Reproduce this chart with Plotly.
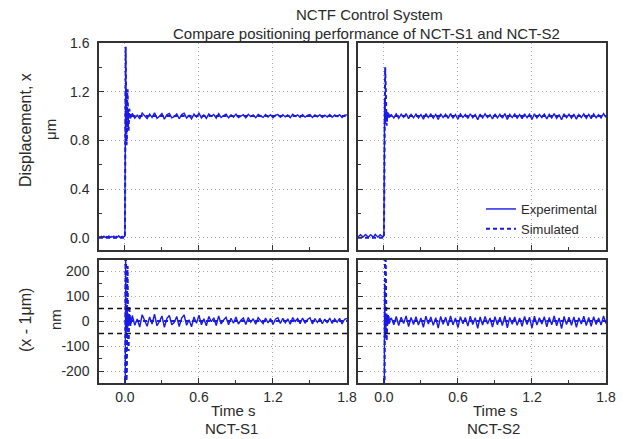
import plotly.graph_objects as go

# ---------------- data ----------------
# sampling of the pre-step part and of the steady part (seconds)
pre_start, pre_dt, pre_n = -0.21, 0.01, 21
ss_start, ss_dt, ss_n = 0.06, 0.02, 88

t_transient = [-0.004, 0.0, 0.002, 0.004, 0.006, 0.008, 0.010, 0.013, 0.016,
               0.019, 0.022, 0.026, 0.030, 0.035, 0.040, 0.045, 0.050]

# NCT-S1 experimental displacement (um)
s1_exp_pre = [0.010, 0.004, 0.012, 0.006, 0.014, 0.002, 0.011, 0.007, 0.015, 0.003,
              0.010, 0.008, 0.013, 0.001, 0.012, 0.006, 0.016, 0.004, 0.009, 0.011, 0.005]
s1_exp_tr = [0.008, 0.015, 0.55, 1.05, 1.25, 1.12, 0.95, 1.06, 0.96, 1.04,
             0.97, 1.03, 0.98, 1.02, 0.99, 1.015, 0.99]
s1_exp_ss = [1.022, 0.983, 1.008, 0.976, 1.025, 1.002, 0.979, 1.016, 0.988, 1.027,
             0.981, 0.998, 1.020, 0.975, 1.010, 1.022, 0.985, 0.995, 1.018, 0.978,
             1.012, 1.024, 0.983, 1.005, 0.977, 1.016, 0.991, 1.023, 0.985, 1.009,
             0.981, 1.018, 0.997, 1.013, 0.982, 1.020, 0.988, 1.004, 1.015, 0.985,
             1.011, 0.991, 1.016, 0.988, 1.003, 1.012, 0.986, 1.014, 0.995, 1.009,
             0.987, 1.013, 1.001, 0.989, 1.012, 0.992, 1.010, 0.986, 1.007, 1.013,
             0.990, 1.011, 0.993, 1.009, 0.987, 1.014, 0.998, 1.010, 0.989, 1.012,
             0.991, 1.006, 1.013, 0.988, 1.010, 0.994, 1.011, 0.989, 1.008, 0.992,
             1.012, 0.990, 1.009, 0.995, 1.011, 0.988, 1.007, 1.010]

# NCT-S1 simulated displacement (um)
s1_sim_t = [-0.21] + t_transient + [1.80]
s1_sim_v = [0.0, 0.0, 0.0, 0.45, 1.20, 1.57, 1.42, 1.05, 0.76, 0.80, 1.18, 1.22,
            0.92, 0.88, 1.06, 1.03, 0.98, 1.0, 1.0]

# NCT-S2 experimental displacement (um)
s2_exp_pre = [0.008, 0.018, 0.026, 0.017, 0.006, 0.014, 0.027, 0.019, 0.007, 0.012,
              0.025, 0.020, 0.005, 0.013, 0.028, 0.018, 0.006, 0.015, 0.026, 0.016, 0.008]
s2_exp_tr = [0.010, 0.020, 0.50, 0.98, 1.15, 1.10, 0.98, 0.94, 0.97, 1.01,
             1.03, 1.00, 0.985, 1.01, 1.02, 0.99, 1.005]
s2_exp_ss = [1.012, 0.985, 1.018, 0.982, 1.015, 0.990, 1.020, 0.978, 1.014, 0.986,
             1.017, 0.984, 1.012, 0.975, 1.019, 0.988, 1.016, 0.983, 1.013, 0.972,
             1.018, 0.987, 1.015, 0.981, 1.020, 0.985, 1.012, 0.974, 1.017, 0.989,
             1.014, 0.980, 1.019, 0.986, 1.013, 0.971, 1.016, 0.984, 1.018, 0.988,
             1.012, 0.976, 1.017, 0.985, 1.015, 0.982, 1.020, 0.973, 1.014, 0.987,
             1.016, 0.983, 1.012, 0.979, 1.018, 0.986, 1.015, 0.972, 1.019, 0.984,
             1.013, 0.988, 1.017, 0.977, 1.014, 0.985, 1.020, 0.981, 1.012, 0.970,
             1.018, 0.986, 1.015, 0.983, 1.016, 0.975, 1.013, 0.988, 1.019, 0.982,
             1.014, 0.979, 1.017, 0.986, 1.012, 0.984, 1.020, 0.990]

# NCT-S2 simulated displacement (um)
s2_sim_t = [-0.21] + t_transient + [1.80]
s2_sim_v = [0.0, 0.0, 0.0, 0.25, 0.75, 1.10, 1.32, 1.40, 1.30, 1.12, 0.97, 0.92,
            0.98, 1.03, 1.01, 0.99, 1.0, 1.0, 1.0]

target_um = 1.0
band_nm = [50, -50]

x_ticks = [0.0, 0.6, 1.2, 1.8]
x_tick_text = ["0.0", "0.6", "1.2", "1.8"]
disp_ticks = [0.0, 0.4, 0.8, 1.2, 1.6]
disp_tick_text = ["0.0", "0.4", "0.8", "1.2", "1.6"]
err_ticks = [-200, -100, 0, 100, 200]
err_tick_text = ["-200", "-100", "0", "100", "200"]

# ---------------- assemble series ----------------
t_pre = [round(pre_start + pre_dt * i, 4) for i in range(pre_n)]
t_ss = [round(ss_start + ss_dt * i, 4) for i in range(ss_n)]
t_exp = t_pre + t_transient + t_ss
s1_exp = s1_exp_pre + s1_exp_tr + s1_exp_ss
s2_exp = s2_exp_pre + s2_exp_tr + s2_exp_ss


def to_nm(vals):
    return [(v - target_um) * 1000.0 for v in vals]


# ---------------- layout geometry ----------------
W, H = 633, 439
ML, MR, MT, MB = 99, 27, 43, 56
PW, PH = W - ML - MR, H - MT - MB


def px_x(x):
    return (x - ML) / PW


def px_y(y):
    return (H - MB - y) / PH


BLUE = "#1a1ae6"
FONT = "Liberation Sans, Arial, sans-serif"
TXT = "#2a2a2a"

fig = go.Figure()

panels = [
    ("x", "y", "x3", "y3", t_exp, s1_exp, s1_sim_t, s1_sim_v, False),
    ("x2", "y2", "x4", "y4", t_exp, s2_exp, s2_sim_t, s2_sim_v, True),
]
# simulated first (drawn underneath), experimental second
for xa, ya, xb, yb, te, ve, ts, vs, leg in panels:
    fig.add_trace(go.Scatter(x=ts, y=vs, xaxis=xa, yaxis=ya, mode="lines",
                             line=dict(color=BLUE, width=2, dash="4px,3px"),
                             name="Simulated", showlegend=leg))
    fig.add_trace(go.Scatter(x=ts, y=to_nm(vs), xaxis=xb, yaxis=yb, mode="lines",
                             line=dict(color=BLUE, width=2, dash="4px,3px"),
                             showlegend=False))
for xa, ya, xb, yb, te, ve, ts, vs, leg in panels:
    fig.add_trace(go.Scatter(x=te, y=ve, xaxis=xa, yaxis=ya, mode="lines",
                             line=dict(color=BLUE, width=1.4),
                             name="Experimental", showlegend=leg))
    fig.add_trace(go.Scatter(x=te, y=to_nm(ve), xaxis=xb, yaxis=yb, mode="lines",
                             line=dict(color=BLUE, width=1.4),
                             showlegend=False))

axis_common = dict(showline=True, mirror=True, linecolor="#333333", linewidth=1.5,
                   ticks="inside", ticklen=5, tickcolor="#333333", tickwidth=1,
                   showgrid=True, gridcolor="#a8a8a8", griddash="1px,3px", gridwidth=1,
                   zeroline=False, tickfont=dict(family=FONT, size=14, color=TXT))
xr = [-0.21, 1.8]
xl = [px_x(99), px_x(347)]
xrr = [px_x(358), 1.0]
yt = [px_y(250), 1.0]
yb_dom = [0.0, px_y(260)]

xminor = dict(ticks="inside", ticklen=3, dtick=0.3, tick0=0, tickcolor="#333333")
fig.update_layout(
    xaxis=dict(axis_common, domain=xl, range=xr, anchor="y", tickvals=x_ticks,
               ticktext=x_tick_text, showticklabels=False, minor=xminor),
    xaxis2=dict(axis_common, domain=xrr, range=xr, anchor="y2", tickvals=x_ticks,
                ticktext=x_tick_text, showticklabels=False, minor=xminor),
    xaxis3=dict(axis_common, domain=xl, range=xr, anchor="y3", tickvals=x_ticks,
                ticktext=x_tick_text, minor=xminor, ticklabelstandoff=0),
    xaxis4=dict(axis_common, domain=xrr, range=xr, anchor="y4", tickvals=x_ticks,
                ticktext=x_tick_text, minor=xminor, ticklabelstandoff=0),
    yaxis=dict(axis_common, domain=yt, range=[-0.1, 1.6], anchor="x",
               tickvals=disp_ticks, ticktext=disp_tick_text, ticklabelstandoff=5,
               minor=dict(ticks="inside", ticklen=3, dtick=0.2, tick0=0, tickcolor="#333333")),
    yaxis2=dict(axis_common, domain=yt, range=[-0.1, 1.6], anchor="x2",
                tickvals=disp_ticks, ticktext=disp_tick_text, showticklabels=False,
                minor=dict(ticks="inside", ticklen=3, dtick=0.2, tick0=0, tickcolor="#333333")),
    yaxis3=dict(axis_common, domain=yb_dom, range=[-248, 244], anchor="x3",
                tickvals=err_ticks, ticktext=err_tick_text, ticklabelstandoff=5,
                minor=dict(ticks="inside", ticklen=3, dtick=50, tick0=0, tickcolor="#333333")),
    yaxis4=dict(axis_common, domain=yb_dom, range=[-248, 244], anchor="x4",
                tickvals=err_ticks, ticktext=err_tick_text, showticklabels=False,
                minor=dict(ticks="inside", ticklen=3, dtick=50, tick0=0, tickcolor="#333333")),
)

for xa, ya in (("x3", "y3"), ("x4", "y4")):
    for b in band_nm:
        fig.add_shape(type="line", xref=f"{xa} domain", yref=ya, x0=0, x1=1, y0=b, y1=b,
                      line=dict(color="#111111", width=1.3, dash="5px,4px"), layer="above")


def note(text, x, y, size, angle=0):
    fig.add_annotation(text=text, xref="paper", yref="paper", x=px_x(x), y=px_y(y),
                       xanchor="center", yanchor="middle", showarrow=False,
                       textangle=angle, font=dict(family=FONT, size=size, color=TXT))


note("NCTF Control System", 369, 14, 15)
note("Compare positioning performance of NCT-S1 and NCT-S2", 366, 33, 15)
note("Displacement, x", 25, 130, 16, -90)
note("μm", 50, 130, 15, -90)
note("(x - 1μm)", 25, 320, 16, -90)
note("nm", 55, 320, 15, -90)
note("Time s", 233, 410, 15)
note("NCT-S1", 231, 428, 15)
note("Time s", 495, 410, 15)
note("NCT-S2", 493, 428, 15)

fig.update_layout(
    width=W, height=H, autosize=False,
    margin=dict(l=ML, r=MR, t=MT, b=MB),
    paper_bgcolor="white", plot_bgcolor="white",
    font=dict(family=FONT, color=TXT),
    legend=dict(x=px_x(481), y=px_y(219), xanchor="left", yanchor="middle",
                traceorder="reversed", bgcolor="rgba(0,0,0,0)",
                font=dict(family=FONT, size=13, color=TXT), itemwidth=30),
)

fig.write_html("out.html")
